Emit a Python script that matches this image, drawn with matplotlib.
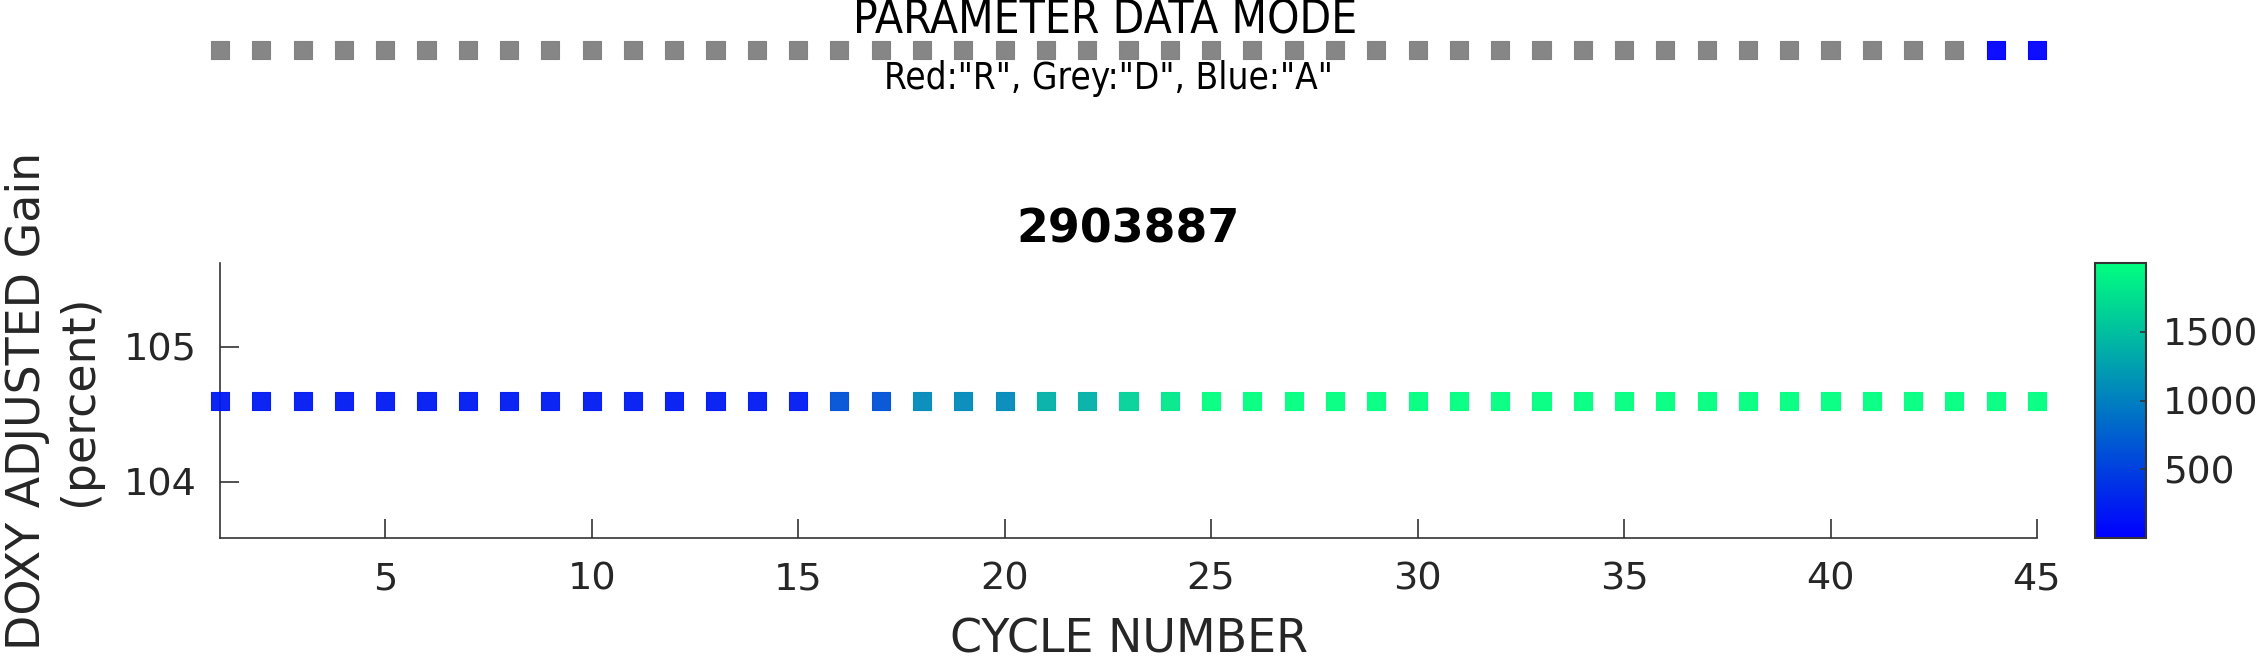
"""Recreate DOXY adjusted gain per cycle chart."""

import matplotlib

matplotlib.use("Agg")
import matplotlib.pyplot as plt
import numpy as np
from matplotlib.colors import Normalize


FLOAT_ID = "2903887"
CYCLES = np.arange(1, 46)
GAIN = [104.6] * 45
# colour value of each cycle
COLOR_VALUE = [200] * 15 + [640, 640, 1080, 1080, 1080, 1380, 1380, 1640, 1820] + [2000] * 21
DATA_MODE = ["D"] * 43 + ["A", "A"]
MODE_COLORS = {"R": "#FF0000", "D": "#808080", "A": "#0000FF"}
CBAR_TICKS = [500, 1000, 1500]
XTICKS = [5, 10, 15, 20, 25, 30, 35, 40, 45]
YTICKS = [104, 105]

INK = "#262626"
SPINE = "#333333"
W, H = 2257, 660


def fx(px):
    return px / W


def fy(py):
    return 1 - py / H


def main():
    plt.rcParams["font.family"] = ["DejaVu Sans"]
    fig = plt.figure(figsize=(W / 100, H / 100), dpi=100)
    fig.patch.set_facecolor("white")

    # top strip: data mode per cycle
    top = fig.add_axes([fx(220), fy(70), fx(2037) - fx(220), 40 / H])
    mode_cols = [MODE_COLORS[m] for m in DATA_MODE]
    top.scatter(CYCLES, np.zeros(len(CYCLES)), c=mode_cols, marker="s", s=170,
                linewidths=0.8, edgecolors=mode_cols, alpha=0.95, clip_on=False)
    top.set_xlim(1, 45)
    top.set_ylim(-1, 1)
    top.axis("off")
    fig.text(fx(1105), fy(34), "PARAMETER DATA MODE", ha="center", va="baseline",
             fontsize=33, fontstretch="condensed", color="black")
    fig.text(fx(1108), fy(89), 'Red:"R", Grey:"D", Blue:"A"', ha="center", va="baseline",
             fontsize=26.5, fontstretch="condensed", color="black")

    # main axes
    ax = fig.add_axes([fx(220), fy(538), fx(2037) - fx(220), 275 / H])
    norm = Normalize(vmin=0, vmax=2000)
    sc = ax.scatter(CYCLES, GAIN, c=COLOR_VALUE, cmap="winter", norm=norm, marker="s",
                    s=170, linewidths=0.8, alpha=0.95, clip_on=False, zorder=3)
    ax.set_xlim(1, 45)
    ax.set_ylim(103.585, 105.62)
    ax.set_xticks(XTICKS)
    ax.set_yticks(YTICKS)
    ax.spines[["top", "right"]].set_visible(False)
    for side in ("left", "bottom"):
        ax.spines[side].set_color(SPINE)
        ax.spines[side].set_linewidth(1.2)
    ax.tick_params(axis="both", direction="in", length=14, width=1.2, color=SPINE,
                   labelsize=27.5, labelcolor=INK)
    ax.tick_params(axis="x", pad=17)
    ax.tick_params(axis="y", pad=16.5)
    ax.set_title(FLOAT_ID, fontsize=33, fontweight="bold", color="black", pad=15)
    ax.set_xlabel("CYCLE NUMBER", fontsize=33, color=INK)
    ax.set_ylabel("DOXY ADJUSTED Gain\n(percent)", fontsize=33, color=INK)
    ax.xaxis.set_label_coords(0.5, -0.29)
    ax.yaxis.set_label_coords(-0.065, 0.5)

    # colorbar
    cax = fig.add_axes([fx(2095), fy(538), 51 / W, 275 / H])
    cb = fig.colorbar(sc, cax=cax)
    cb.solids.set_alpha(1)
    cb.set_ticks(CBAR_TICKS)
    cb.outline.set_edgecolor(SPINE)
    cb.outline.set_linewidth(1.5)
    cax.tick_params(direction="in", length=4, width=1.2, color=SPINE, labelsize=27,
                    labelcolor=INK, pad=12)

    fig.savefig("out.png", dpi=100, facecolor="white")
    plt.close(fig)


if __name__ == "__main__":
    main()
